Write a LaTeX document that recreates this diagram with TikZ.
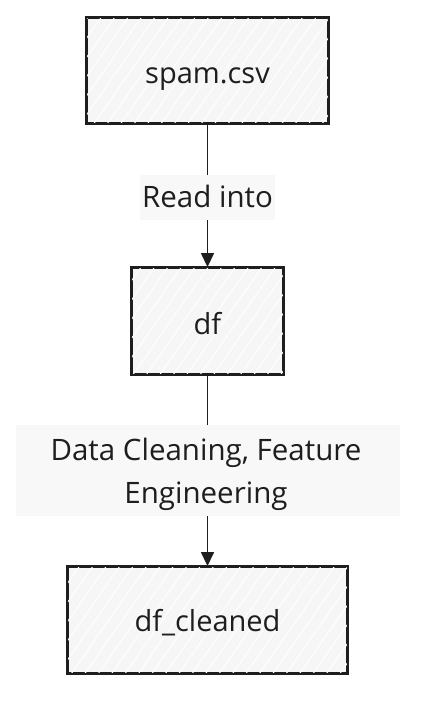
\documentclass[tikz,border=0pt]{standalone}
\usepackage{fontspec}
\setmainfont{Open Sans}
\usetikzlibrary{arrows.meta,patterns.meta,backgrounds}
\definecolor{ink}{HTML}{1E1E1E}
\definecolor{boxfill}{HTML}{F6F6F6}
\definecolor{hatch}{HTML}{FFFFFF}
\definecolor{lblfill}{HTML}{F8F8F8}
\newcommand{\basedown}[2]{\raisebox{-#1}[0pt][0pt]{#2}}
\begin{document}
\begin{tikzpicture}[x=1pt,y=-1pt,
  flowbox/.style={draw=ink,line width=1.9pt,fill=boxfill,
    postaction={pattern={Lines[angle=55,distance=11pt,line width=1pt]},pattern color=hatch},
    inner sep=0pt,font=\fontsize{29}{33}\selectfont,text=ink},
  lbl/.style={fill=lblfill,inner sep=0pt,font=\fontsize{29.5}{43}\selectfont,text=ink,align=center},
  flow/.style={draw=ink,line width=1.5pt,-{Triangle[length=14pt,width=13pt]}}]
\useasboundingbox (0,0) rectangle (432,718);
\node[flowbox,minimum width=241pt,minimum height=105pt] (spam) at (207.5,70.5) {\basedown{12.5pt}{spam.csv}};
\node[flowbox,minimum width=151pt,minimum height=106pt] (df) at (207.5,321) {\basedown{13pt}{df}};
\node[flowbox,minimum width=279pt,minimum height=106pt] (dfc) at (207.5,620) {\basedown{11.5pt}{df\_cleaned}};
\draw[ink,line width=1.9pt] (spam.north west) rectangle (spam.south east);
\draw[ink,line width=1.9pt] (df.north west) rectangle (df.south east);
\draw[ink,line width=1.9pt] (dfc.north west) rectangle (dfc.south east);
\begin{pgfonlayer}{background}
\draw[flow] (spam.south) -- (df.north);
\draw[flow] (df.south) -- (dfc.north);
\end{pgfonlayer}
\node[lbl,minimum width=135pt,minimum height=45pt] (l1) at (207.5,197.5) {\basedown{9.5pt}{Read into}};
\node[lbl,minimum width=384pt,minimum height=91pt] (l2) at (208,470.5) {};
\node[lbl,fill=none,anchor=base] (l2t) at (206,503) {Data Cleaning, Feature\\Engineering};
\end{tikzpicture}
\end{document}
